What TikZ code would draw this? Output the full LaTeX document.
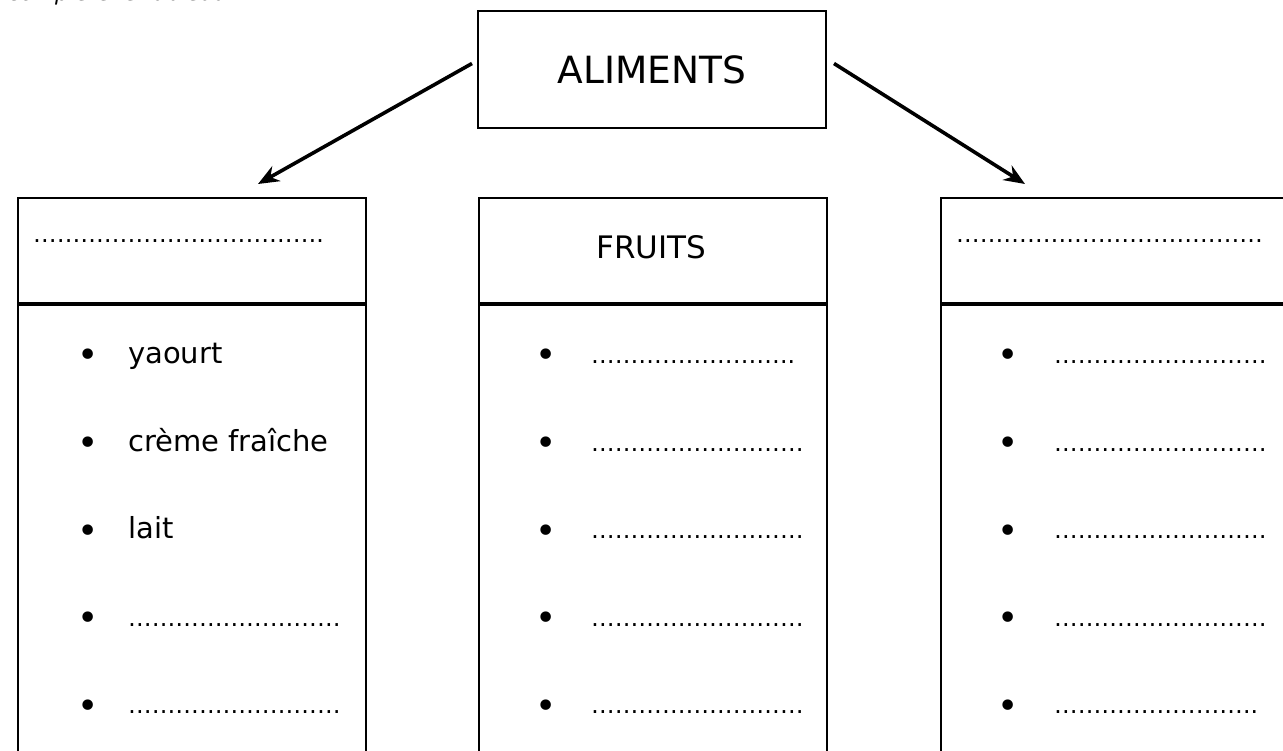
\documentclass[tikz,border=0pt]{standalone}
\usepackage{fontspec}
\setmainfont{DejaVu Sans}
\usetikzlibrary{arrows.meta}

% lignes a completer
\newcommand{\trois}{………}
\newcommand{\trous}{{\fontsize{23.6}{28}\selectfont\trois\trois\trois}}
\newcommand{\trousb}{{\fontsize{23.6}{28}\selectfont\trois\trois……..}}

\begin{document}
\begin{tikzpicture}[x=1pt,y=-1pt,>={Stealth[length=21pt,width=17pt]},
    boite/.style={draw,line width=2pt,minimum width=348pt,inner sep=0pt},
    tete/.style={boite,minimum height=105pt,anchor=north west},
    corps/.style={boite,minimum height=480pt,anchor=north west},
    puce/.style={anchor=base,inner sep=0pt,font=\fontsize{36}{40}\selectfont},
    elem/.style={anchor=base west,inner sep=0pt,font=\fontsize{29}{34}\selectfont},
    pointille/.style={anchor=base west,inner sep=0pt,font=\fontsize{23.6}{28}\selectfont},
    fleche/.style={->,line width=3.6pt}]

  \useasboundingbox (0,0) rectangle (1283,751);

  % consigne, coupee par le bord
  \node[anchor=base west,inner sep=0pt,font=\fontsize{22}{26}\selectfont\itshape] (consigne) at (8,1) {complète le tableau};

  \node[boite,minimum height=117pt,font=\fontsize{37.5}{44}\selectfont] (ali) at (652,69.5) {ALIMENTS};

  \node[tete] (teteG) at (17,197) {};
  \node[tete] (teteM) at (478,197) {};
  \node[tete] (teteD) at (940,197) {};
  \node[corps] (corpsG) at (teteG.south west) {};
  \node[corps] (corpsM) at (teteM.south west) {};
  \node[corps] (corpsD) at (teteD.south west) {};

  \node[pointille] (titreG) at (33,243) {\trois\trois\trois\trois.};
  \node[anchor=base,inner sep=0pt,font=\fontsize{31}{36}\selectfont] (titreM) at (651.5,259) {FRUITS};
  \node[pointille] (titreD) at (956,243) {\trois\trois\trois\trois…};

  \foreach \t [count=\i from 0] in {yaourt,crème fraîche,lait,\trous,\trous}{
    \node[puce] (pG\i) at (88,368+87.5*\i) {•};
    \node[elem] (eG\i) at (128,363.5+87.5*\i) {\t};
  }
  \foreach \t [count=\i from 0] in {\trousb,\trous,\trous,\trous,\trous}{
    \node[puce] (pM\i) at (546,368+87.5*\i) {•};
    \node[elem] (eM\i) at (591,363.5+87.5*\i) {\t};
  }
  \foreach \t [count=\i from 0] in {\trous,\trous,\trous,\trous,\trousb}{
    \node[puce] (pD\i) at (1008,368+87.5*\i) {•};
    \node[elem] (eD\i) at (1054,363.5+87.5*\i) {\t};
  }

  \coordinate (pointeG) at (258,184);
  \coordinate (pointeD) at (1025,184);
  \draw[fleche] ([xshift=-5pt,yshift=6pt]ali.west) -- (pointeG);
  \draw[fleche] ([xshift=7pt,yshift=6pt]ali.east) -- (pointeD);
\end{tikzpicture}
\end{document}
